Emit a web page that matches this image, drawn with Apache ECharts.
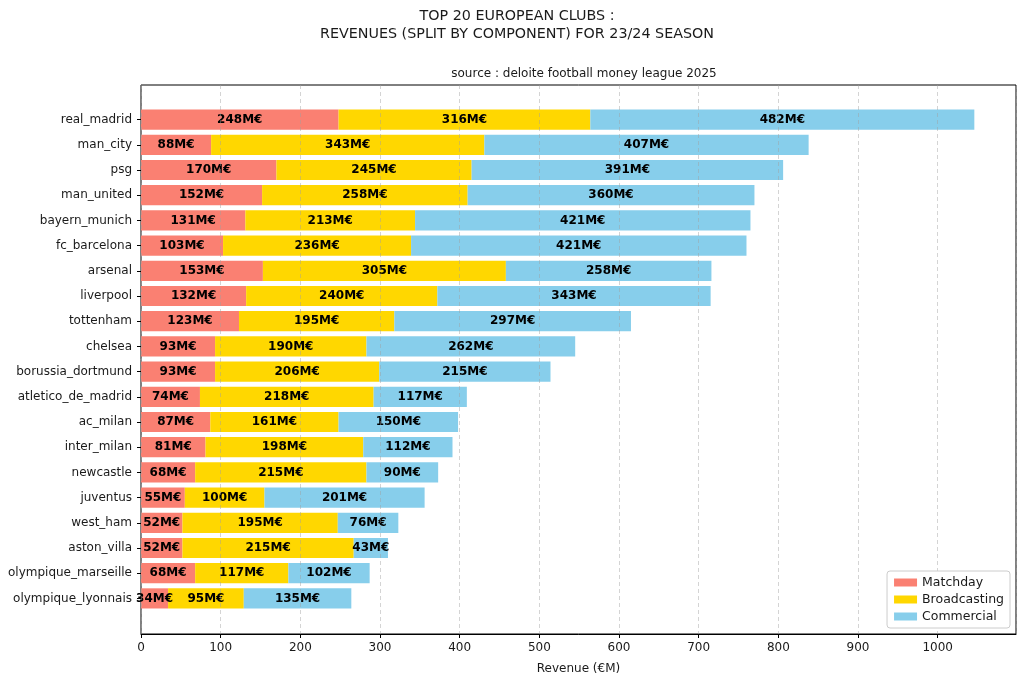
<!DOCTYPE html>
<html>
<head>
<meta charset="utf-8">
<script src="https://cdn.jsdelivr.net/npm/echarts@6/dist/echarts.min.js"></script>
<style>html,body{margin:0;padding:0;background:#fff}#c{width:1024px;height:680px}</style>
</head>
<body>
<div id="c"></div>
<script>
const clubs = ['real_madrid','man_city','psg','man_united','bayern_munich','fc_barcelona','arsenal','liverpool','tottenham','chelsea','borussia_dortmund','atletico_de_madrid','ac_milan','inter_milan','newcastle','juventus','west_ham','aston_villa','olympique_marseille','olympique_lyonnais'];
const matchday = [248,88,170,152,131,103,153,132,123,93,93,74,87,81,68,55,52,52,68,34];
const broadcasting = [316,343,245,258,213,236,305,240,195,190,206,218,161,198,215,100,195,215,117,95];
const commercial = [482,407,391,360,421,421,258,343,297,262,215,117,150,112,90,201,76,43,102,135];
const xTicks = [0,100,200,300,400,500,600,700,800,900,1000];

const FONT = 'DejaVu Sans';
const XMAX = 1098.3;
const TXT = '#1a1a1a';
const chart = echarts.init(document.getElementById('c'), null, {renderer:'canvas'});
const lbl = {show:true, position:'inside', formatter: p => p.value + 'M€', color:'#000', fontFamily:FONT, fontWeight:'bold', fontSize:12};
function mk(name, data, color){
  return {name, type:'bar', stack:'total', data, xAxisIndex:0, yAxisIndex:0, barWidth:'80%',
    itemStyle:{color}, label:lbl, emphasis:{disabled:true}};
}
chart.setOption({
  animation:false,
  textStyle:{fontFamily:FONT},
  title:[
    {text:'TOP 20 EUROPEAN CLUBS :\nREVENUES (SPLIT BY COMPONENT) FOR 23/24 SEASON', left:512, top:2, textAlign:'center',
      textStyle:{fontFamily:FONT, fontWeight:'normal', fontSize:14.3, lineHeight:18, color:TXT}},
    {text:'source : deloite football money league 2025', left:579, top:63, textAlign:'center',
      textStyle:{fontFamily:FONT, fontWeight:'normal', fontSize:12, color:TXT}}
  ],
  legend:{orient:'vertical', right:14, bottom:52, itemWidth:23, itemHeight:8, itemGap:4,
    backgroundColor:'#fff', borderColor:'#ccc', borderWidth:1, borderRadius:3, padding:[5,6,5,7],
    textStyle:{fontFamily:FONT, fontSize:12.5, color:TXT}, data:['Matchday','Broadcasting','Commercial'],
    icon:'rect'},
  grid:[
    {left:141, right:8, top:107, bottom:69},
    {left:141, right:8, top:85, bottom:46, show:true, borderColor:'#000', borderWidth:1, backgroundColor:'transparent'}
  ],
  xAxis:[
    {type:'value', gridIndex:0, min:0, max:XMAX, show:false},
    {type:'value', gridIndex:1, min:0, max:XMAX, interval:100, z:3,
      name:'Revenue (€M)', nameLocation:'middle', nameGap:29,
      nameTextStyle:{fontFamily:FONT, fontSize:12, color:TXT},
      axisLine:{show:true, lineStyle:{color:'#000'}},
      axisTick:{show:true, length:4, lineStyle:{color:'#000'}},
      axisLabel:{fontFamily:FONT, fontSize:12, color:TXT, margin:8, showMaxLabel:false,
        formatter: v => xTicks.indexOf(v) >= 0 ? String(v) : ''},
      splitLine:{show:true, lineStyle:{type:[4,3], color:'rgba(160,160,160,0.45)', width:1}}}
  ],
  yAxis:[
    {type:'category', gridIndex:0, data:clubs, inverse:true,
      axisLine:{show:false}, axisTick:{show:true, alignWithLabel:true, length:4, lineStyle:{color:'#000'}},
      axisLabel:{fontFamily:FONT, fontSize:12, color:TXT, margin:9}},
    {type:'value', gridIndex:1, min:0, max:1, show:false}
  ],
  series:[
    mk('Matchday', matchday, '#FA8072'),
    mk('Broadcasting', broadcasting, '#FFD700'),
    mk('Commercial', commercial, '#87CEEB')
  ]
});
</script>
</body>
</html>
